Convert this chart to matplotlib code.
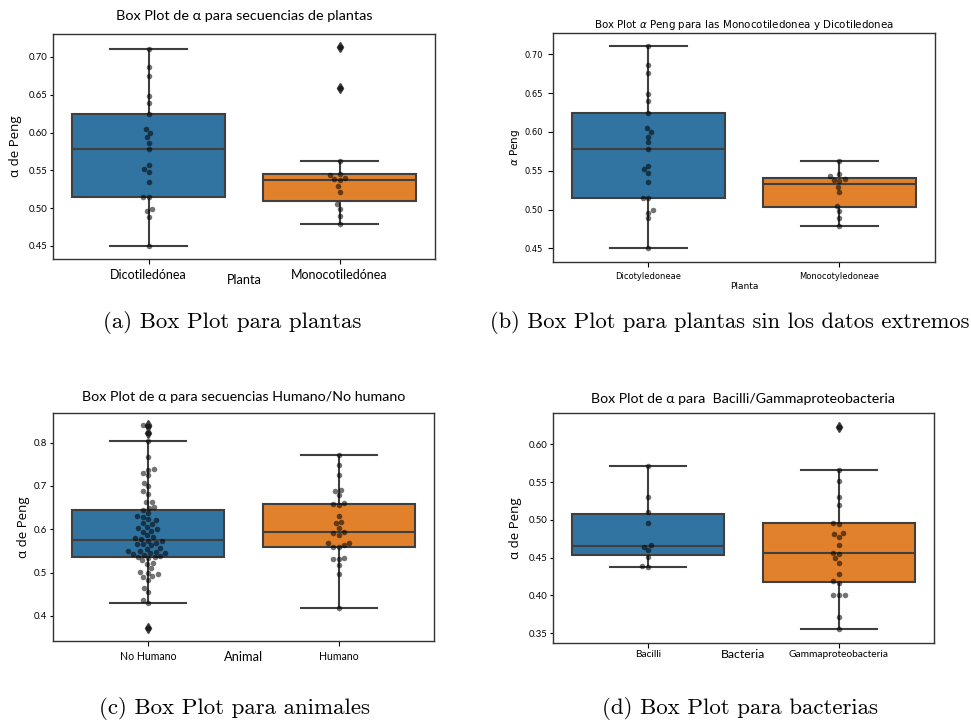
import numpy as np
import pandas as pd
import matplotlib
matplotlib.use('Agg')
import matplotlib.pyplot as plt
import seaborn as sns

# valores de alpha de Peng
plantas = ['Dicotiledónea', 'Monocotiledónea']
plantas_b = ['Dicotyledoneae', 'Monocotyledoneae']
dicot = [0.711, 0.6868, 0.6754, 0.649, 0.6393, 0.6243, 0.6049, 0.5996, 0.5935, 0.5864, 0.5785,
         0.5565, 0.5521, 0.5477, 0.535, 0.5151, 0.5143, 0.4993, 0.4958, 0.4887, 0.45]
monocot = [0.562, 0.5455, 0.5435, 0.5395, 0.538, 0.537, 0.529, 0.522, 0.505, 0.4985, 0.489, 0.4786]
monocot_extremos = [0.6595, 0.7132]

animales = ['No Humano', 'Humano']
no_humano = [0.841, 0.838, 0.822, 0.805, 0.768, 0.740, 0.738, 0.729, 0.725, 0.708, 0.700, 0.689,
             0.682, 0.664, 0.662, 0.652, 0.650,
             0.644, 0.637, 0.631, 0.629, 0.624, 0.621, 0.615, 0.613, 0.606, 0.602, 0.600, 0.597,
             0.594, 0.587, 0.582, 0.579, 0.577,
             0.574, 0.572, 0.569, 0.567, 0.565, 0.563, 0.557, 0.555, 0.551, 0.549, 0.548, 0.546,
             0.545, 0.543, 0.541, 0.539, 0.537,
             0.535, 0.533, 0.528, 0.523, 0.520, 0.510, 0.501, 0.499, 0.497, 0.492, 0.490, 0.483,
             0.464, 0.456, 0.437, 0.430, 0.371]
humano = [0.771, 0.748, 0.725, 0.691, 0.688, 0.679, 0.660, 0.658, 0.657, 0.631, 0.617, 0.614,
          0.603, 0.594, 0.592, 0.587, 0.569, 0.568, 0.564, 0.560, 0.558, 0.534, 0.532, 0.531,
          0.517, 0.496, 0.418]

bacterias = ['Bacilli', 'Gammaproteobacteria']
bacilli = [0.5713, 0.5307, 0.5109, 0.4963, 0.4665, 0.4645, 0.4602, 0.4513, 0.439, 0.438]
gamma = [0.6234, 0.566, 0.552, 0.5308, 0.5193, 0.4960, 0.4950, 0.4832, 0.4814, 0.478, 0.4664,
         0.4567, 0.455, 0.4492, 0.4435, 0.4285, 0.4185, 0.417, 0.401, 0.4003, 0.4003, 0.3712, 0.3553]

azul = '#3274a1'
naranja = '#e1812c'
gris = '#3f3f3f'
NARROW = ['Lato', 'DejaVu Sans']
ROUND = ['Open Sans', 'DejaVu Sans']


def tabla(nombres, grupos):
    return pd.DataFrame({'grupo': np.repeat(nombres, [len(g) for g in grupos]),
                         'valor': np.concatenate(grupos)})


def caja(ax, df, orden):
    sns.boxplot(data=df, x='grupo', y='valor', hue='grupo', order=orden, hue_order=orden,
                palette=[azul, naranja], saturation=1, width=0.8, linecolor=gris, linewidth=1.5,
                flierprops=dict(marker='d', markerfacecolor=gris, markeredgecolor=gris, markersize=5),
                legend=False, ax=ax)
    sns.swarmplot(data=df, x='grupo', y='valor', order=orden, color='k', alpha=0.55, size=4,
                  linewidth=0, ax=ax)
    for s in ax.spines.values():
        s.set_color('#333333')
        s.set_linewidth(1.0)


def fuentes(ax, fam, tx, ty):
    for t in ax.get_xticklabels():
        t.set_fontfamily(fam)
        t.set_fontsize(tx)
    for t in ax.get_yticklabels():
        t.set_fontfamily(fam)
        t.set_fontsize(ty)


fig = plt.figure(figsize=(9.71, 7.23), dpi=100)

# (a)
ax = fig.add_axes([0.0546, 0.6418, 0.3934, 0.3112])
caja(ax, tabla(plantas, [dicot, monocot + monocot_extremos]), plantas)
ax.set_ylim(0.4328, 0.7304)
ax.set_yticks([0.45, 0.50, 0.55, 0.60, 0.65, 0.70])
ax.tick_params(axis='y', length=2.5, pad=1.5)
ax.set_title('Box Plot de α para secuencias de plantas', family=NARROW, fontsize=10.4, pad=10)
ax.set_xlabel('Planta', family=NARROW, fontsize=9.2, labelpad=-4.5)
ax.set_ylabel('α de Peng', family=ROUND, fontsize=9.5, labelpad=4.7)
fuentes(ax, NARROW, 9, 6.8)

# (b)
ax = fig.add_axes([0.5695, 0.6376, 0.3934, 0.3167])
caja(ax, tabla(plantas_b, [dicot, monocot]), plantas_b)
ax.set_ylim(0.4323, 0.7275)
ax.set_yticks([0.45, 0.50, 0.55, 0.60, 0.65, 0.70])
ax.set_title(r'Box Plot $\alpha$ Peng para las Monocotiledonea y Dicotiledonea', fontsize=7.35, pad=3.6)
ax.set_xlabel('Planta', fontsize=6.5, labelpad=1)
ax.set_ylabel(r'$\alpha$ Peng', fontsize=7.5, labelpad=2)
fuentes(ax, 'DejaVu Sans', 6, 6)

# (c)
ax = fig.add_axes([0.0546, 0.1134, 0.3924, 0.3154])
caja(ax, tabla(animales, [no_humano, humano]), animales)
ax.set_ylim(0.342, 0.8686)
ax.set_yticks([0.4, 0.5, 0.6, 0.7, 0.8])
ax.tick_params(axis='y', length=2.5, pad=1.5)
ax.set_title('Box Plot de α para secuencias Humano/No humano', family=NARROW, fontsize=10.3, pad=8.7)
ax.set_xlabel('Animal', family=NARROW, fontsize=9.3, labelpad=-8)
ax.set_ylabel('α de Peng', family=ROUND, fontsize=9.5, labelpad=3.3)
fuentes(ax, NARROW, 7.6, 6.8)

# (d)
ax = fig.add_axes([0.5695, 0.1106, 0.3924, 0.3181])
caja(ax, tabla(bacterias, [bacilli, gamma]), bacterias)
ax.set_ylim(0.337, 0.6414)
ax.set_yticks([0.35, 0.40, 0.45, 0.50, 0.55, 0.60])
ax.tick_params(axis='y', length=2.5, pad=1.5)
ax.tick_params(axis='x', pad=1.5)
ax.set_title('Box Plot de α para  Bacilli/Gammaproteobacteria', family=NARROW, fontsize=10.2, pad=7)
ax.set_xlabel('Bacteria', family=NARROW, fontsize=8.8, labelpad=-7)
ax.set_ylabel('α de Peng', family=ROUND, fontsize=9.5, labelpad=5)
fuentes(ax, NARROW, 7.3, 6.8)

# subtitulos estilo LaTeX
cap = dict(family='cmr10', va='center')
fig.text(232 / 971, 1 - 322 / 723, '(a) Box Plot para plantas', ha='center', fontsize=16.5, **cap)
fig.text(490 / 971, 1 - 322 / 723, '(b) Box Plot para plantas sin los datos extremos', ha='left',
         fontsize=16.2, **cap)
fig.text(234 / 971, 1 - 708 / 723, '(c) Box Plot para animales', ha='center', fontsize=16.5, **cap)
fig.text(740 / 971, 1 - 708 / 723, '(d) Box Plot para bacterias', ha='center', fontsize=16.5, **cap)

fig.savefig('out.png', dpi=100)
